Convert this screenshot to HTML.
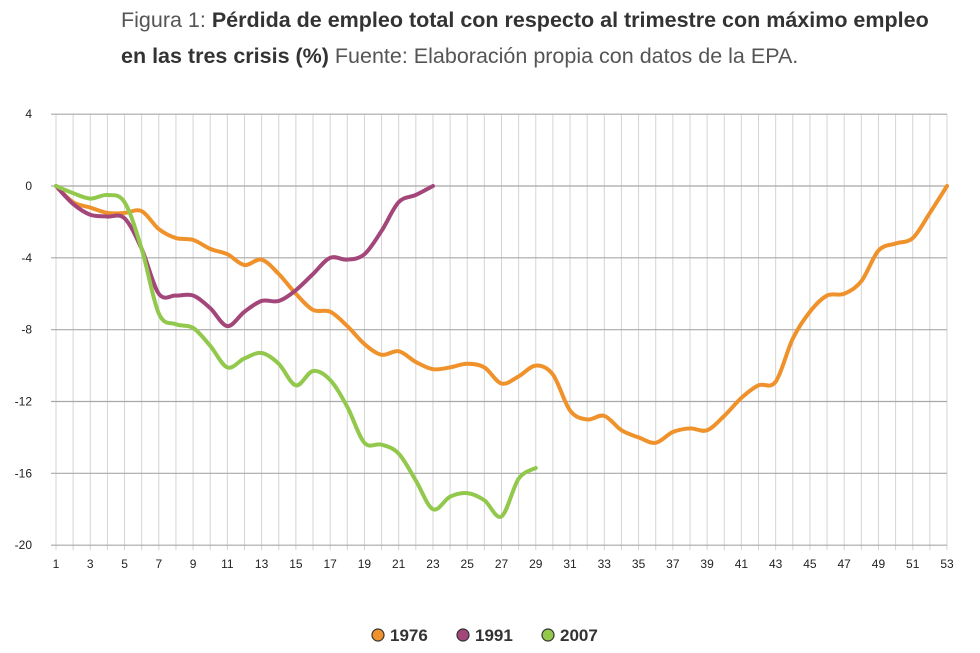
<!DOCTYPE html>
<html><head><meta charset="utf-8"><style>
body{margin:0;background:#fff;width:980px;height:653px;overflow:hidden;font-family:"Liberation Sans",sans-serif}
#title{position:absolute;left:121px;top:2px;font-size:21.5px;line-height:36px;color:#555;width:815px}
#title b{color:#333}
</style></head><body>
<div id="title">Figura 1: <b>Pérdida de empleo total con respecto al trimestre con máximo empleo en las tres crisis (%)</b> Fuente: Elaboración propia con datos de la EPA.</div>
<svg id="chart" width="980" height="653" style="position:absolute;left:0;top:0"></svg>
<script>
const quarters = Array.from({length:53},(_, i)=>i+1);
const s1976 = [0,-0.9,-1.2,-1.5,-1.5,-1.4,-2.4,-2.9,-3.0,-3.5,-3.8,-4.4,-4.1,-4.9,-6.0,-6.9,-7.0,-7.8,-8.8,-9.4,-9.2,-9.8,-10.2,-10.1,-9.9,-10.1,-11.0,-10.6,-10.0,-10.5,-12.5,-13.0,-12.8,-13.6,-14.0,-14.3,-13.7,-13.5,-13.6,-12.8,-11.8,-11.1,-10.9,-8.5,-7.0,-6.1,-6.0,-5.3,-3.6,-3.2,-2.9,-1.5,0];
const s1991 = [0,-1.0,-1.6,-1.7,-1.8,-3.5,-6.0,-6.1,-6.1,-6.8,-7.8,-7.0,-6.4,-6.4,-5.8,-4.9,-4.0,-4.1,-3.8,-2.5,-0.9,-0.5,0];
const s2007 = [0,-0.4,-0.7,-0.5,-0.9,-3.5,-7.1,-7.7,-7.9,-8.9,-10.1,-9.6,-9.3,-9.9,-11.1,-10.3,-10.8,-12.3,-14.3,-14.4,-14.9,-16.4,-18.0,-17.3,-17.1,-17.5,-18.4,-16.3,-15.7];
const yTicks = [4,0,-4,-8,-12,-16,-20];
const seriesNames = ["1976","1991","2007"];
const colors = ["#f0922b","#a3467a","#92c84c"];

const svg = document.getElementById('chart');
const NS = "http://www.w3.org/2000/svg";
const x = q => 56 + (q-1)*(947-56)/52;
const y = v => 186 - v*(431/24);
function mk(tag, attrs){const e=document.createElementNS(NS,tag);for(const k in attrs)e.setAttribute(k,attrs[k]);svg.appendChild(e);return e;}

quarters.forEach(q=>{
  const l = mk('line',{x1:x(q),x2:x(q),y1:y(4),y2:y(-20)+5,stroke:'#d4d4d4','stroke-width':1});
  
  
  if(q%2===1){
    const t = mk('text',{x:x(q),y:568,'font-size':12,'text-anchor':'middle',fill:'#222'});
    t.textContent=q;
    
    
  }
});
yTicks.forEach(v=>{
  const l = mk('line',{x1:x(1)-5,x2:x(53),y1:y(v),y2:y(v),stroke:'#a8a8a8','stroke-width':1.2});
  
  
  const t = mk('text',{x:32,y:y(v)+4,'font-size':12,'text-anchor':'end',fill:'#222'});
  t.textContent=v;
  
  
});
function path(vals){
  const p = vals.map((v,i)=>[x(i+1),y(v)]);
  let d = `M${p[0][0]},${p[0][1]}`;
  for(let i=0;i<p.length-1;i++){
    const p0=p[Math.max(0,i-1)],p1=p[i],p2=p[i+1],p3=p[Math.min(p.length-1,i+2)];
    const c1=[p1[0]+(p2[0]-p0[0])/6,p1[1]+(p2[1]-p0[1])/6];
    const c2=[p2[0]-(p3[0]-p1[0])/6,p2[1]-(p3[1]-p1[1])/6];
    d+=` C${c1[0]},${c1[1]} ${c2[0]},${c2[1]} ${p2[0]},${p2[1]}`;
  }
  return d;
}
[s1976,s1991,s2007].forEach((s,i)=>{
  const e = mk('path',{d:path(s),fill:'none',stroke:colors[i],'stroke-width':4,'stroke-linejoin':'round','stroke-linecap':'round'});
  
  
});
const lx=[378,463,548];
seriesNames.forEach((n,i)=>{
  const c = mk('circle',{cx:lx[i],cy:635,r:6,fill:colors[i],stroke:'#333','stroke-width':1.2});
  
  
  const t = mk('text',{x:lx[i]+12,y:641,'font-size':17,'font-weight':'bold',fill:'#333'});
  t.textContent=n;
  
  
});
</script>
</body></html>
